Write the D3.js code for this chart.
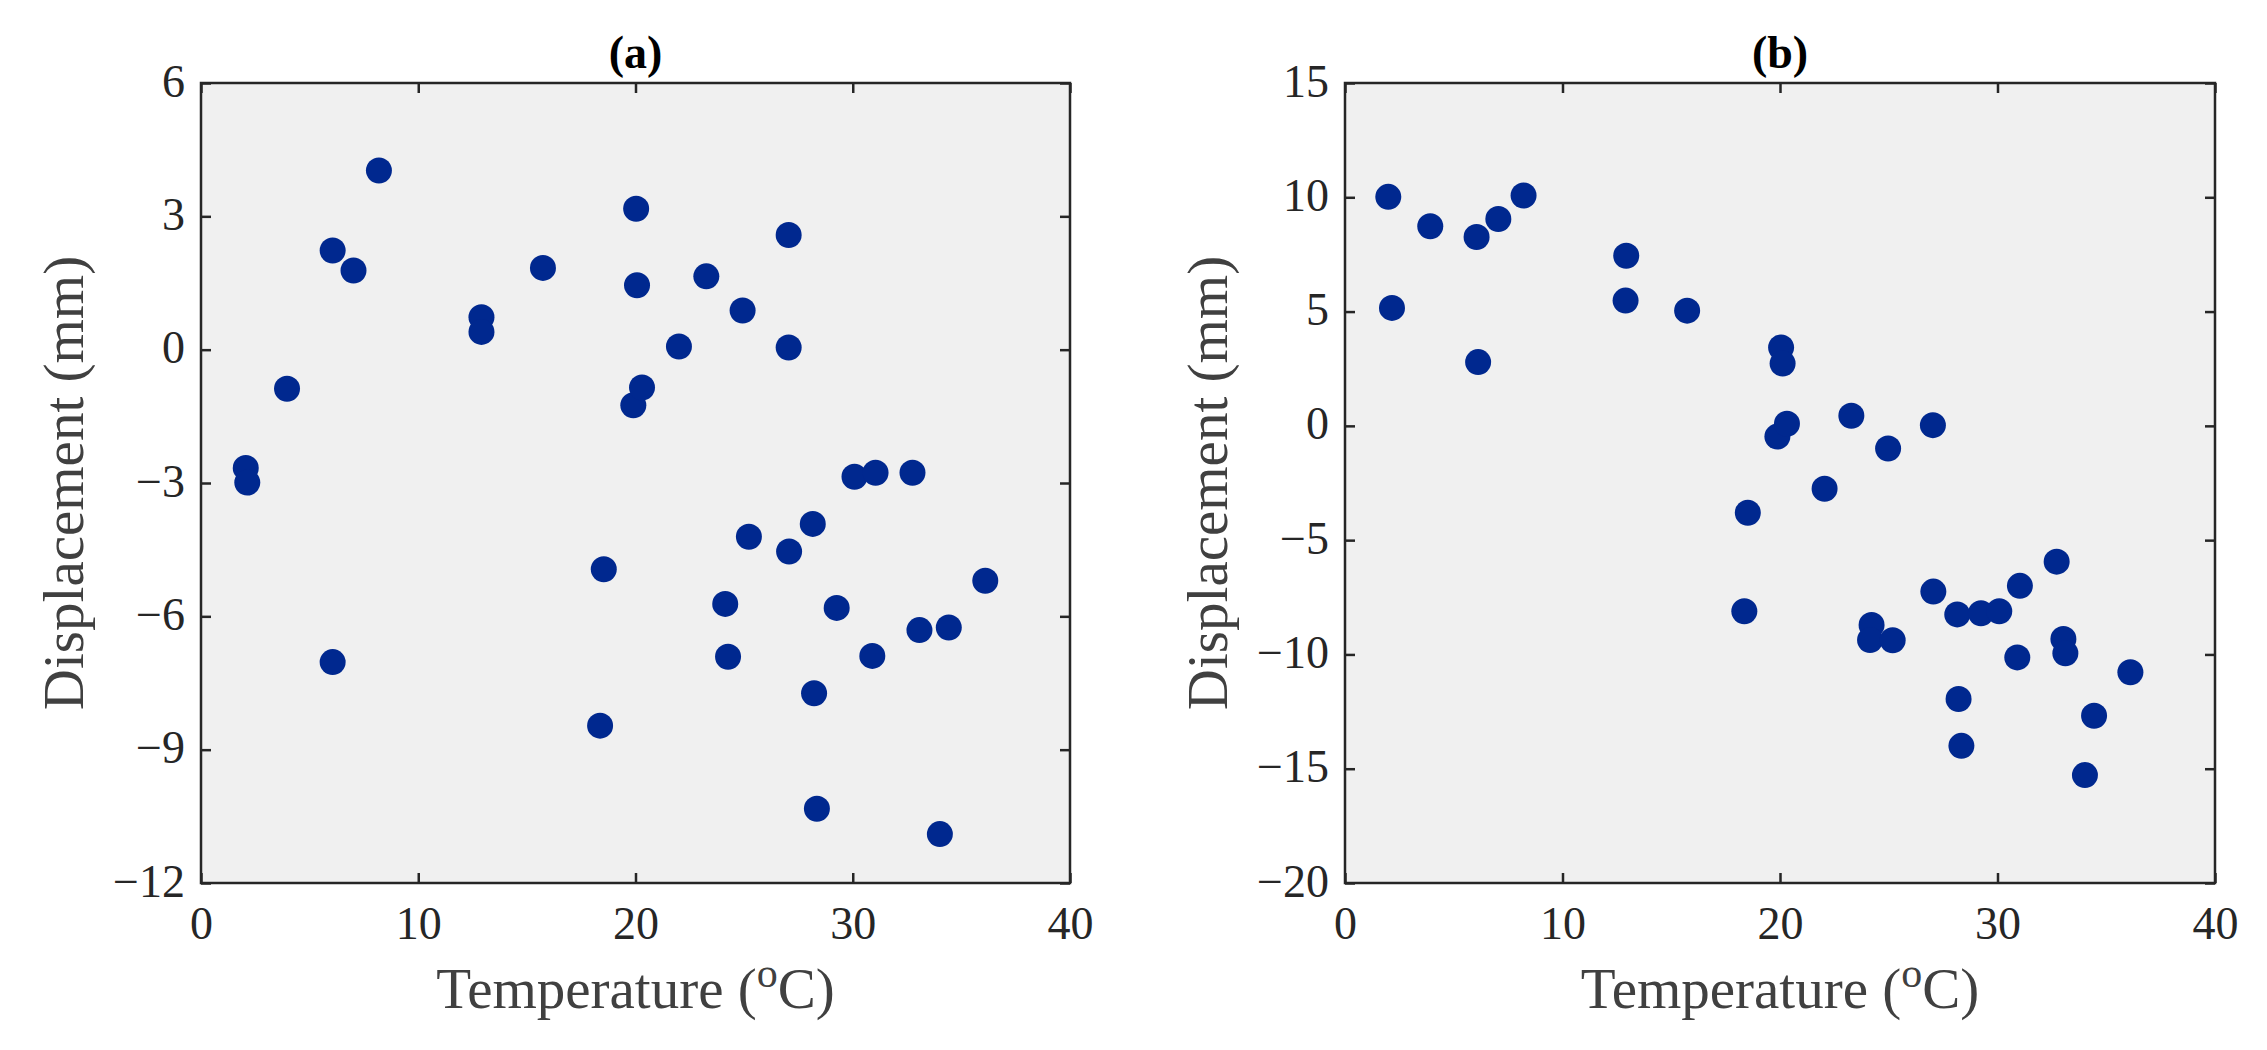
<!DOCTYPE html>
<html>
<head>
<meta charset="utf-8">
<script src="https://cdn.jsdelivr.net/npm/d3@7"></script>
<style>
  html, body { margin: 0; padding: 0; background: #fff; }
  svg { display: block; }
</style>
</head>
<body>
<svg id="chart" width="2267" height="1050"></svg>
<script>
// ---- Data ----
const tempA = [2.06, 2.13, 3.96, 6.06, 6.06, 7.02, 8.19, 12.91, 12.91, 15.74, 18.54, 18.37, 20.03, 20.07, 19.90, 20.30, 22.0, 23.26, 24.13, 24.26, 24.93, 25.22, 27.05, 27.05, 27.07, 28.16, 28.22, 28.35, 29.26, 30.08, 31.05, 30.90, 32.75, 33.07, 34.42, 34.01, 36.10];
const dispA = [-2.66, -2.99, -0.88, 2.23, -7.03, 1.78, 4.03, 0.73, 0.40, 1.84, -4.94, -8.46, 3.17, 1.45, -1.25, -0.85, 0.07, 1.65, -5.72, -6.91, 0.88, -4.21, 2.58, 0.05, -4.54, -3.92, -7.73, -10.33, -5.81, -2.86, -2.77, -6.89, -2.77, -6.31, -6.25, -10.90, -5.20];

const tempB = [1.99, 2.16, 3.92, 6.05, 6.12, 7.05, 8.21, 12.93, 12.90, 15.73, 18.52, 18.36, 20.05, 20.12, 19.88, 20.32, 22.05, 23.28, 24.21, 24.14, 24.97, 25.18, 27.03, 27.05, 28.15, 28.21, 28.34, 29.24, 30.08, 31.03, 30.91, 32.72, 33.03, 33.12, 34.44, 34.02, 36.11];
const dispB = [10.02, 5.16, 8.73, 8.26, 2.79, 9.05, 10.08, 7.44, 5.48, 5.04, -3.80, -8.11, 3.43, 2.73, -0.47, 0.09, -2.75, 0.44, -8.71, -9.37, -0.99, -9.38, 0.03, -7.25, -8.25, -11.95, -14.0, -8.20, -8.11, -7.0, -10.13, -5.94, -9.32, -9.95, -12.68, -15.28, -10.78];

const xTicks = [0, 10, 20, 30, 40];
const yTicksA = [-12, -9, -6, -3, 0, 3, 6];
const yTicksB = [-20, -15, -10, -5, 0, 5, 10, 15];
const titles = ["(a)", "(b)"];
const xLabel = "Temperature (";
const yLabel = "Displacement (mm)";

// ---- Drawing ----
const svg = d3.select("#chart");
const fmt = v => (v < 0 ? "\u2212" + Math.abs(v) : String(v));

const panels = [
  { left: 201, top: 83, width: 869, height: 800, temp: tempA, disp: dispA,
    yDomain: [-12, 6], yTicks: yTicksA, title: titles[0] },
  { left: 1345, top: 83, width: 870, height: 800, temp: tempB, disp: dispB,
    yDomain: [-20, 15], yTicks: yTicksB, title: titles[1] }
];

const axisColor = "#262626";
const serif = "'Liberation Serif', 'Times New Roman', serif";

panels.forEach(p => {
  const g = svg.append("g").attr("transform", `translate(${p.left},${p.top})`);
  const x = d3.scaleLinear().domain([0, 40]).range([0, p.width]);
  const y = d3.scaleLinear().domain(p.yDomain).range([p.height, 0]);

  g.append("rect").attr("width", p.width).attr("height", p.height).attr("fill", "#f0f0f0");

  // points
  g.selectAll("circle.pt").data(p.temp.map((t, i) => [t, p.disp[i]]))
    .enter().append("circle")
    .attr("class", "pt")
    .attr("cx", d => x(d[0]))
    .attr("cy", d => y(d[1]))
    .attr("r", 13)
    .attr("fill", "#00288f");

  // axes with inward ticks
  const styleAxis = sel => {
    sel.attr("font-family", serif);
    sel.select(".domain").remove();
    sel.selectAll(".tick line").attr("stroke", axisColor).attr("stroke-width", 2.5);
    sel.selectAll("text").attr("fill", axisColor).attr("font-family", serif).attr("font-size", 46);
  };

  const xb = g.append("g").attr("transform", `translate(0,${p.height})`)
    .call(d3.axisBottom(x).tickValues(xTicks).tickSizeInner(-10).tickSizeOuter(0).tickFormat(fmt));
  styleAxis(xb);
  xb.selectAll("text").attr("y", 56).attr("dy", null);

  const xt = g.append("g")
    .call(d3.axisTop(x).tickValues(xTicks).tickSizeInner(-10).tickSizeOuter(0).tickFormat(""));
  styleAxis(xt);

  const yl = g.append("g")
    .call(d3.axisLeft(y).tickValues(p.yTicks).tickSizeInner(-10).tickSizeOuter(0).tickFormat(fmt));
  styleAxis(yl);
  yl.selectAll("text").attr("x", -16).attr("dy", null).attr("y", 13);

  const yr = g.append("g").attr("transform", `translate(${p.width},0)`)
    .call(d3.axisRight(y).tickValues(p.yTicks).tickSizeInner(-10).tickSizeOuter(0).tickFormat(""));
  styleAxis(yr);

  // box
  g.append("rect").attr("width", p.width).attr("height", p.height)
    .attr("fill", "none").attr("stroke", axisColor).attr("stroke-width", 2.5);

  // title
  g.append("text")
    .attr("x", p.width / 2).attr("y", 68 - p.top)
    .attr("text-anchor", "middle")
    .attr("font-family", serif).attr("font-weight", "bold").attr("font-size", 46)
    .attr("fill", "#000")
    .text(p.title);

  // x label
  const xt2 = g.append("text")
    .attr("x", p.width / 2).attr("y", 1008 - p.top)
    .attr("text-anchor", "middle")
    .attr("font-family", serif).attr("font-size", 57)
    .attr("fill", "#404040");
  xt2.append("tspan").text(xLabel);
  xt2.append("tspan").attr("dy", -21).attr("font-size", 42).text("o");
  xt2.append("tspan").attr("dy", 21).text("C)");

  // y label
  g.append("text")
    .attr("transform", `translate(${-118},${p.height / 2}) rotate(-90)`)
    .attr("text-anchor", "middle")
    .attr("font-family", serif).attr("font-size", 57)
    .attr("fill", "#404040")
    .text(yLabel);
});
</script>
</body>
</html>
